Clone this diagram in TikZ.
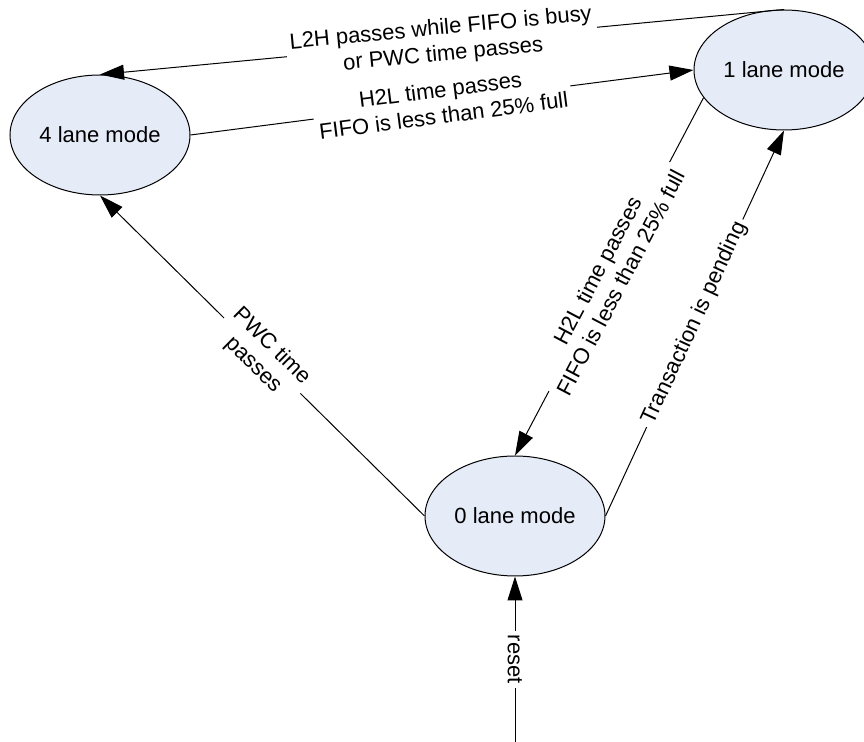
\documentclass[tikz,border=0pt]{standalone}
\usepackage{fontspec}
\setmainfont{Liberation Sans}
\usetikzlibrary{shapes.geometric, arrows.meta}
\definecolor{statefill}{RGB}{229,235,247}

\begin{document}
\begin{tikzpicture}[x=0.5pt, y=-0.5pt,
  txt/.style={font=\fontsize{11}{13}\selectfont},
  state/.style={ellipse, draw=black, line width=0.5pt, fill=statefill,
    minimum width=90pt, minimum height=60pt, inner sep=0pt, txt},
  trans/.style={draw=black, line width=0.5pt,
    -{Triangle[length=12pt,width=7.5pt]}},
  lbl/.style={fill=white, align=center, inner xsep=2pt, inner ysep=0.5pt,
    txt, midway}
]
\useasboundingbox (0,0) rectangle (864,742);
\clip (0,0) rectangle (864,742);

% states
\node[state] (four) at (100,135) {4 lane mode};
\node[state] (one)  at (784,70)  {1 lane mode};
\node[state] (zero) at (515,516) {0 lane mode};
\coordinate (rst) at (515,742);

% transitions
\draw[trans] (one.north) -- node[lbl, sloped]
  {L2H passes while FIFO is busy\\or PWC time passes} (four.north);
\draw[trans] (four.east) -- node[lbl, sloped]
  {H2L time passes\\FIFO is less than 25\% full} (one.west);
\draw[trans] (one.199) -- node[lbl, sloped]
  {H2L time passes\\FIFO is less than 25\% full} (zero.north);
\draw[trans] (zero.east) -- node[lbl, sloped]
  {Transaction is pending} (one.south);
\draw[trans] (zero.west) -- node[lbl, sloped]
  {PWC time\\passes} (four.south);
\draw[trans] (rst) -- node[lbl, rotate=-90] {reset} (zero.south);
\end{tikzpicture}
\end{document}
